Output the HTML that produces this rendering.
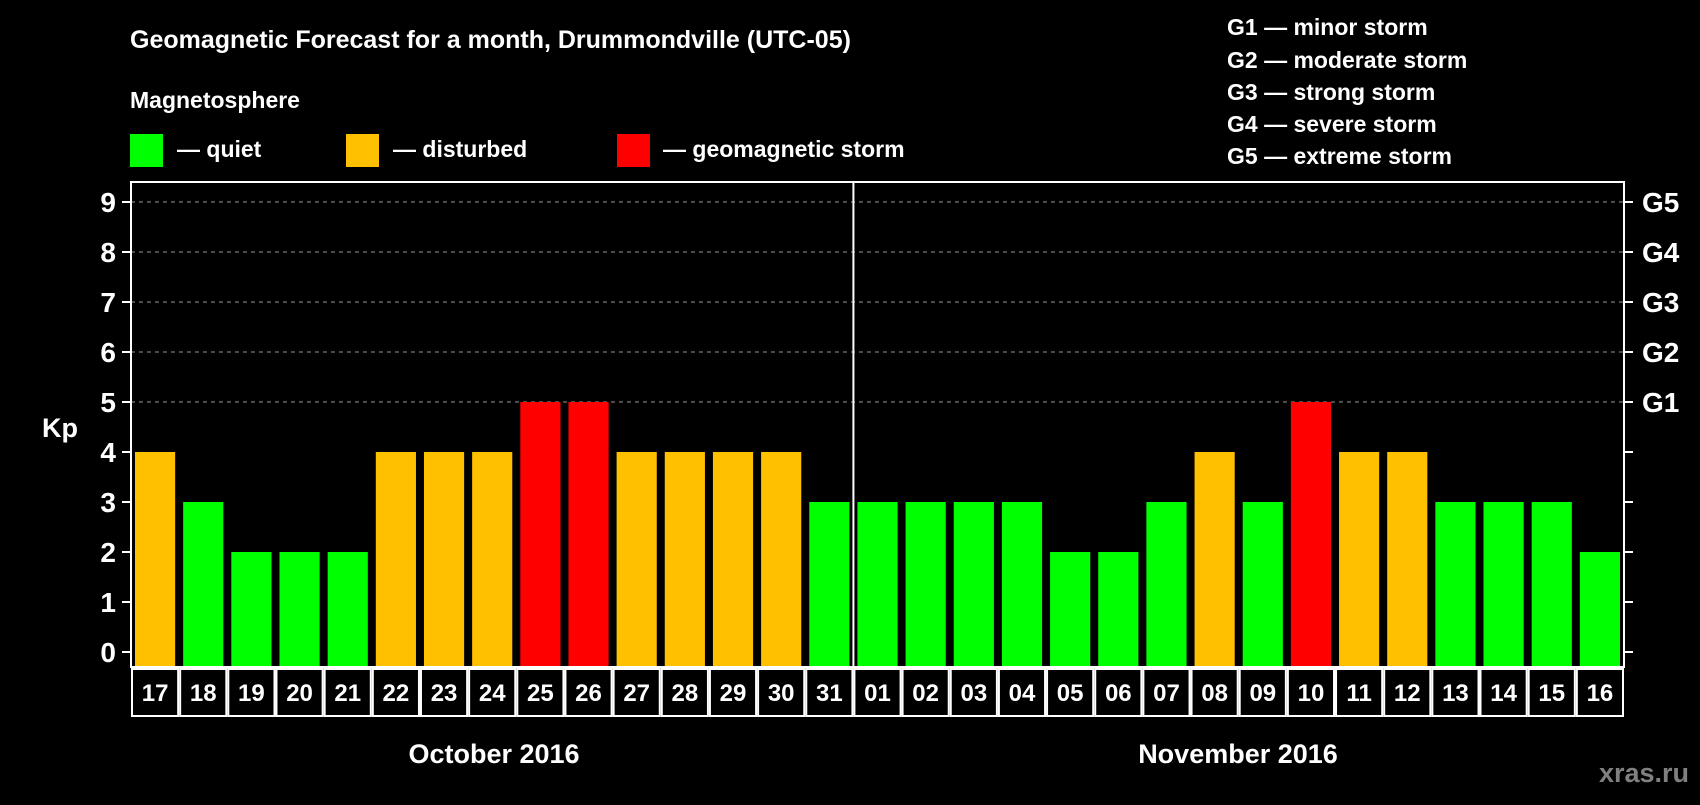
<!DOCTYPE html>
<html><head><meta charset="utf-8"><style>
body{margin:0;background:#000;width:1700px;height:800px;overflow:hidden}
svg text{font-family:"Liberation Sans",sans-serif;font-weight:bold;fill:#fff}
</style></head><body>
<svg id="chart" width="1700" height="800" xmlns="http://www.w3.org/2000/svg">
<text x="130" y="48" font-size="25">Geomagnetic Forecast for a month, Drummondville (UTC-05)</text>
<text x="130" y="108" font-size="23">Magnetosphere</text>
<g><rect x="130" y="134" width="33" height="33" fill="#00ff00"/><text x="177" y="157" font-size="23">— quiet</text></g>
<g><rect x="346" y="134" width="33" height="33" fill="#ffc000"/><text x="393" y="157" font-size="23">— disturbed</text></g>
<g><rect x="617" y="134" width="33" height="33" fill="#ff0000"/><text x="663" y="157" font-size="23">— geomagnetic storm</text></g>
<g font-size="23">
<text x="1227" y="35">G1 — minor storm</text>
<text x="1227" y="68">G2 — moderate storm</text>
<text x="1227" y="100">G3 — strong storm</text>
<text x="1227" y="132">G4 — severe storm</text>
<text x="1227" y="164">G5 — extreme storm</text>
</g>
<text x="42" y="437" font-size="27">Kp</text>
<text x="494" y="763" font-size="27" text-anchor="middle">October 2016</text>
<text x="1238" y="763" font-size="27" text-anchor="middle">November 2016</text>
<text x="1689" y="782" font-size="27" text-anchor="end" style="fill:#808080">xras.ru</text>
<g id="plot"></g>
</svg>
<script>
const days=["17","18","19","20","21","22","23","24","25","26","27","28","29","30","31","01","02","03","04","05","06","07","08","09","10","11","12","13","14","15","16"];
const kp=[4,3,2,2,2,4,4,4,5,5,4,4,4,4,3,3,3,3,3,2,2,3,4,3,5,4,4,3,3,3,2];
const yTicks=[0,1,2,3,4,5,6,7,8,9];
const gLabels=["G1","G2","G3","G4","G5"];
const L=131,R=1624,T=182,B=667,Y0=652,Y9=202;
const ns="http://www.w3.org/2000/svg";
const g=document.getElementById("plot");
const cw=(R-L)/days.length;
const y=v=>Y0+(Y9-Y0)*v/9;
const x=i=>L+i*cw;
function mk(t,a){const e=document.createElementNS(ns,t);for(const k in a)e.setAttribute(k,a[k]);g.appendChild(e);return e;}
// grid
for(let v=5;v<=9;v++){const l=mk("line",{x1:L,x2:R,y1:y(v),y2:y(v),stroke:"#999","stroke-dasharray":"4,4","stroke-width":1});

}
// bars
kp.forEach((v,i)=>{const c=v>=5?"#ff0000":v==4?"#ffc000":"#00ff00";
const r=mk("rect",{x:x(i)+4,y:y(v),width:cw-8,height:B-y(v)-1,fill:c});


const b=mk("rect",{x:x(i)+1,y:B+2,width:cw-2,height:47,fill:"none",stroke:"#fff","stroke-width":2});


const t=mk("text",{x:x(i)+cw/2,y:B+34,"font-size":24,"text-anchor":"middle"});t.textContent=days[i];

});
// frame
const f=mk("rect",{x:L,y:T,width:R-L,height:B-T,fill:"none",stroke:"#fff","stroke-width":2});


const d=mk("line",{x1:x(15),x2:x(15),y1:T,y2:B,stroke:"#fff","stroke-width":2});


yTicks.forEach(v=>{mk("line",{x1:L-9,x2:L,y1:y(v),y2:y(v),stroke:"#fff","stroke-width":2});
mk("line",{x1:R,x2:R+9,y1:y(v),y2:y(v),stroke:"#fff","stroke-width":2});
const t=mk("text",{x:L-15,y:y(v)+10,"font-size":28,"text-anchor":"end"});t.textContent=v;

});
gLabels.forEach((s,i)=>{const t=mk("text",{x:R+18,y:y(5+i)+10,"font-size":28});t.textContent=s;

});
</script>
</body></html>
